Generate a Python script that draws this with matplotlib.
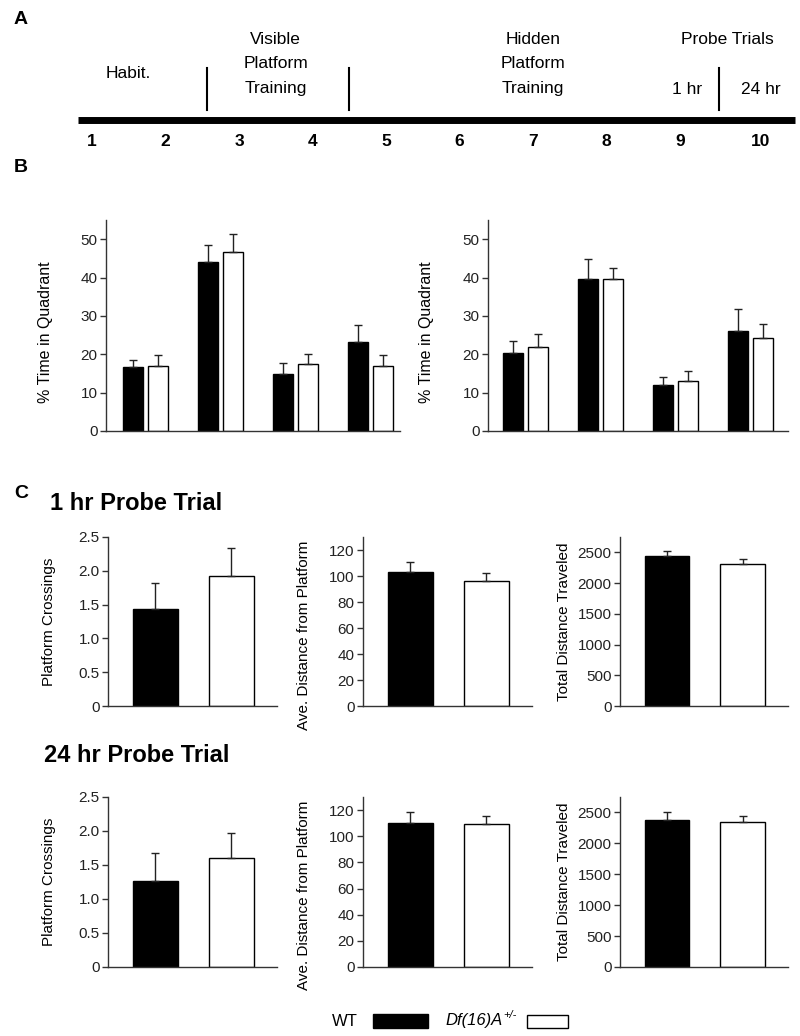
import matplotlib.pyplot as plt
from matplotlib.patches import Rectangle

plt.rcParams["font.family"] = ["Liberation Sans", "DejaVu Sans"]

W, H = 800, 1036

# ---- data ----
days = [1, 2, 3, 4, 5, 6, 7, 8, 9, 10]
dividers = [2.57, 4.5, 9.53]

quadrants = [0, 1, 2, 3]
quad_wt_1 = [16.7, 44.1, 14.9, 23.3]
quad_wt_1_err = [1.8, 4.4, 2.8, 4.3]
quad_df_1 = [17.0, 46.7, 17.5, 16.9]
quad_df_1_err = [2.9, 4.7, 2.7, 2.8]

quad_wt_2 = [20.3, 39.5, 12.1, 26.1]
quad_wt_2_err = [3.2, 5.3, 1.9, 5.6]
quad_df_2 = [21.9, 39.6, 13.1, 24.3]
quad_df_2_err = [3.4, 3.0, 2.5, 3.6]

probe_labels = ["Platform Crossings", "Ave. Distance from Platform", "Total Distance Traveled"]
probe_ylims = [2.5, 130, 2750]
probe_ticks = [[0, 0.5, 1.0, 1.5, 2.0, 2.5],
               [0, 20, 40, 60, 80, 100, 120],
               [0, 500, 1000, 1500, 2000, 2500]]
probe_tick_fmt = ["{:.1f}", "{:d}", "{:d}"]

wt_1hr = [1.43, 103.0, 2438]
wt_1hr_err = [0.39, 7.8, 82]
df_1hr = [1.93, 96.2, 2307]
df_1hr_err = [0.41, 6.1, 82]

wt_24hr = [1.26, 110.3, 2386]
wt_24hr_err = [0.42, 8.4, 114]
df_24hr = [1.60, 109.5, 2338]
df_24hr_err = [0.37, 6.1, 97]


def ax_px(left, top, right, bottom):
    return [left / W, 1 - bottom / H, (right - left) / W, (bottom - top) / H]


def style_axes(ax):
    for s in ["top", "right"]:
        ax.spines[s].set_visible(False)
    for s in ["left", "bottom"]:
        ax.spines[s].set_linewidth(1.0)
        ax.spines[s].set_color("#333333")
    ax.tick_params(axis="y", direction="out", length=4, width=1, color="#333333",
                   labelsize=11, labelcolor="#222222", pad=2)
    ax.tick_params(axis="x", bottom=False, labelbottom=False)


def draw_pair(ax, x, wt, wt_err, df, df_err, off, width):
    xs_wt = [v - off for v in x]
    xs_df = [v + off for v in x]
    ekw = dict(elinewidth=1.0, capthick=1.0, ecolor="#222222")
    ax.bar(xs_wt, wt, width=width, color="black", edgecolor="black", linewidth=1,
           yerr=([0] * len(wt), wt_err), capsize=3, error_kw=ekw, zorder=2)
    ax.bar(xs_df, df, width=width, color="white", edgecolor="black", linewidth=1,
           yerr=([0] * len(df), df_err), capsize=3, error_kw=ekw, zorder=2)


fig = plt.figure(figsize=(W / 100, H / 100), dpi=100)

# ---- panel A: timeline ----
axA = fig.add_axes(ax_px(0, 0, W, 160))
axA.set_xlim(1 - 92 / 73.5, 1 + 708 / 73.5)
axA.set_ylim(160, 0)
axA.axis("off")
axA.plot([0.81, 10.56], [120, 120], color="black", lw=5, solid_capstyle="butt")
for d in dividers:
    axA.plot([d, d], [68, 110], color="black", lw=1.5)
for d in days:
    axA.text(d if d < 10 else d + 0.1, 141, str(d), ha="center", va="center",
             fontsize=12.5, fontweight="bold")
tA = dict(ha="center", va="center", fontsize=12.5)
axA.text(1.5, 73, "Habit.", **tA)
axA.text(3.5, 40, "Visible", **tA)
axA.text(3.5, 64, "Platform", **tA)
axA.text(3.5, 89, "Training", **tA)
axA.text(7.0, 40, "Hidden", **tA)
axA.text(7.0, 64, "Platform", **tA)
axA.text(7.0, 89, "Training", **tA)
axA.text(9.65, 40, "Probe Trials", **tA)
axA.text(9.1, 89, "1 hr", **tA)
axA.text(10.1, 89, "24 hr", **tA)

fig.text(14 / W, 1 - 20 / H, "A", fontsize=14, fontweight="bold", va="center")
fig.text(14 / W, 1 - 168 / H, "B", fontsize=14, fontweight="bold", va="center")
fig.text(14 / W, 1 - 493 / H, "C", fontsize=14, fontweight="bold", va="center")

# ---- panel B: quadrant time ----
b_axes = [
    (ax_px(106, 220, 400, 431), (-0.53, 3.39), quad_wt_1, quad_wt_1_err, quad_df_1, quad_df_1_err),
    (ax_px(488, 220, 788, 431), (-0.5, 3.5), quad_wt_2, quad_wt_2_err, quad_df_2, quad_df_2_err),
]
for rect, xl, wt, wte, df, dfe in b_axes:
    ax = fig.add_axes(rect)
    draw_pair(ax, quadrants, wt, wte, df, dfe, off=0.168, width=0.267)
    ax.set_xlim(*xl)
    ax.set_ylim(0, 55)
    ax.set_yticks([0, 10, 20, 30, 40, 50])
    style_axes(ax)
    ax.set_ylabel("% Time in Quadrant", fontsize=11.5)
    ax.yaxis.set_label_coords(-0.18, 0.47)

# ---- panel C: probe trials ----
fig.text(50 / W, 1 - 503 / H, "1 hr Probe Trial", fontsize=17, fontweight="bold", va="center")
fig.text(44 / W, 1 - 755 / H, "24 hr Probe Trial", fontsize=17, fontweight="bold", va="center")

col_px = [(108, 277), (363, 532), (620, 788)]
rows = [
    ((537, 706), wt_1hr, wt_1hr_err, df_1hr, df_1hr_err),
    ((797, 967), wt_24hr, wt_24hr_err, df_24hr, df_24hr_err),
]
for (top, bottom), wt, wte, df, dfe in rows:
    for i, (l, r) in enumerate(col_px):
        ax = fig.add_axes(ax_px(l, top, r, bottom))
        draw_pair(ax, [0.5], [wt[i]], [wte[i]], [df[i]], [dfe[i]], off=0.5, width=0.59)
        ax.set_xlim(-0.62, 1.6)
        ax.set_ylim(0, probe_ylims[i])
        ax.set_yticks(probe_ticks[i])
        fmt = probe_tick_fmt[i]
        ax.set_yticklabels(["0"] + [fmt.format(t) for t in probe_ticks[i][1:]])
        style_axes(ax)
        ax.set_ylabel(probe_labels[i], fontsize=11)
        ax.yaxis.set_label_coords(-0.31 if i < 2 else -0.29, 0.42 if i == 1 else 0.5)

# ---- legend ----
fig.text(345 / W, 1 - 1021 / H, "WT", fontsize=12, ha="center", va="center")
fig.add_artist(Rectangle((373 / W, 1 - 1028 / H), 55 / W, 14 / H,
                         transform=fig.transFigure, facecolor="black", edgecolor="black"))
t_df = fig.text(445 / W, 1 - 1021 / H, "Df(16)A", fontsize=12, style="italic",
                ha="left", va="center")
axA.annotate("+/-", xy=(1, 0.6), xycoords=t_df, xytext=(0.5, 0), textcoords="offset points",
             fontsize=8, style="italic", ha="left", va="bottom", annotation_clip=False)
fig.add_artist(Rectangle((527 / W, 1 - 1028 / H), 41 / W, 13 / H,
                         transform=fig.transFigure, facecolor="white", edgecolor="black", lw=1))

fig.savefig("out.png", dpi=100)
